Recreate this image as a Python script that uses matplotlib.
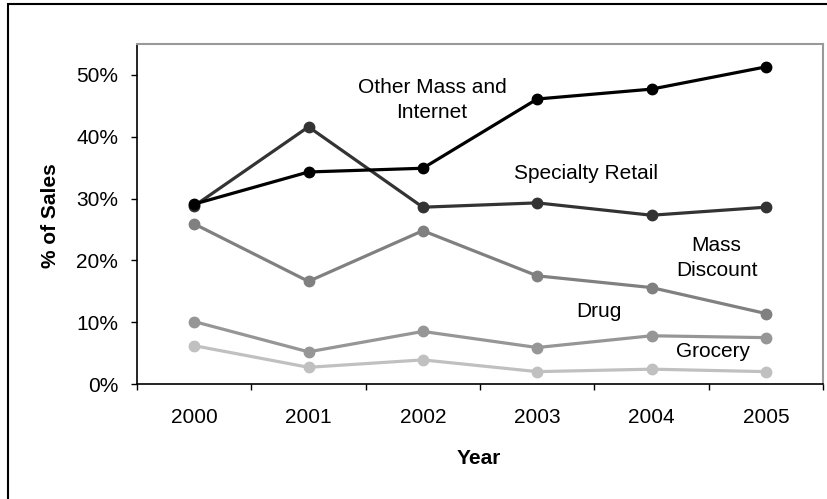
import matplotlib
matplotlib.use("Agg")
import matplotlib.pyplot as plt
from matplotlib.patches import Rectangle
from matplotlib.ticker import FixedLocator, PercentFormatter

plt.rcParams['font.family'] = ['Liberation Sans', 'DejaVu Sans']

years = ['2000', '2001', '2002', '2003', '2004', '2005']
other_mass_internet = [0.291, 0.343, 0.349, 0.461, 0.477, 0.513]
specialty_retail = [0.288, 0.416, 0.286, 0.293, 0.273, 0.286]
mass_discount = [0.259, 0.166, 0.248, 0.175, 0.156, 0.114]
drug = [0.101, 0.052, 0.085, 0.059, 0.078, 0.075]
grocery = [0.062, 0.027, 0.039, 0.020, 0.024, 0.020]

series = [
    ('Grocery', grocery, '#c0c0c0', (4.54, 0.052)),
    ('Drug', drug, '#969696', (3.54, 0.117)),
    ('Mass\nDiscount', mass_discount, '#808080', (4.57, 0.204)),
    ('Specialty Retail', specialty_retail, '#333333', (3.43, 0.341)),
    ('Other Mass and\nInternet', other_mass_internet, '#000000', (2.08, 0.46)),
]

W, H = 827, 499
fig = plt.figure(figsize=(W / 100, H / 100), dpi=100)
ax = fig.add_axes([137 / W, 1 - 384 / H, (823 - 137) / W, (384 - 44) / H])

x = list(range(len(years)))
for name, vals, col, (tx, ty) in series:
    ax.plot(x, vals, color=col, lw=2.3, marker='o', markersize=7.5,
            solid_capstyle='round', zorder=3)
    ax.text(tx, ty, name, ha='center', va='center', fontsize=15,
            linespacing=1.4, color='black')

ax.set_xlim(-0.5, 5.5)
ax.set_ylim(0, 0.55)
ax.set_xticks(x)
ax.set_xticklabels(years, fontsize=15)
ax.xaxis.set_minor_locator(FixedLocator([i - 0.5 for i in range(len(years) + 1)]))
ax.tick_params(axis='x', which='major', length=0, pad=17.5)
ax.tick_params(axis='x', which='minor', length=4.5, width=1, color='black', direction='out')
ax.set_yticks([0, 0.1, 0.2, 0.3, 0.4, 0.5])
ax.yaxis.set_major_formatter(PercentFormatter(1.0, decimals=0))
ax.tick_params(axis='y', length=4.5, width=1, pad=9, labelsize=15, direction='out')

for s in ['top', 'right']:
    ax.spines[s].set_color('#999999')
    ax.spines[s].set_linewidth(1.5)
for s in ['left', 'bottom']:
    ax.spines[s].set_color('black')
    ax.spines[s].set_linewidth(1.2)

fig.text(479 / W, 1 - 458 / H, 'Year', ha='center', va='center',
         fontsize=15, fontweight='bold')
fig.text(50 / W, 1 - 216 / H, '% of Sales', ha='center', va='center',
         fontsize=15, fontweight='bold', rotation=90)

fig.patches.append(Rectangle((8 / W, -0.1), 1.2, 1.1 - 4 / H,
                             transform=fig.transFigure, fill=False,
                             edgecolor='black', lw=1.5))

fig.savefig('out.png', dpi=100)
